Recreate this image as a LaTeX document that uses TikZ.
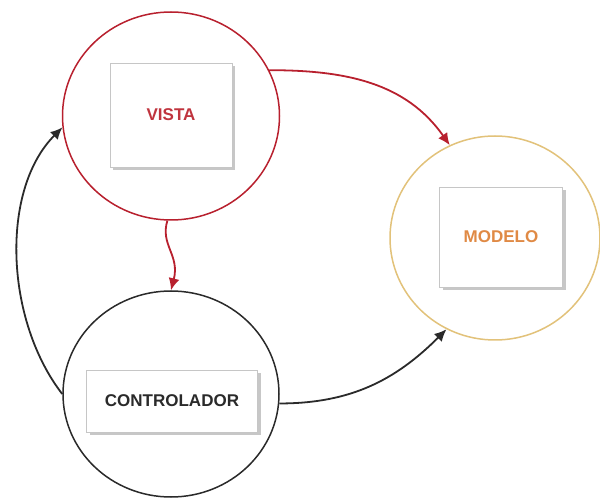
\documentclass[tikz,border=0pt]{standalone}
\usepackage{fontspec}
\setmainfont{Liberation Sans}
\usetikzlibrary{shapes.geometric,arrows.meta,shadows}
\definecolor{vred}{HTML}{B8202E}
\definecolor{vtext}{HTML}{C0343E}
\definecolor{mgold}{HTML}{E2C27A}
\definecolor{mtext}{HTML}{E08A45}
\definecolor{cblack}{HTML}{2A2A2A}
\tikzset{
  ring/.style={ellipse, line width=1.5pt, fill=white},
  card/.style={rectangle, draw=gray!45, line width=0.8pt, fill=white,
    drop shadow={shadow xshift=3pt, shadow yshift=-3pt, fill=gray!55, opacity=0.8},
    font=\bfseries\fontsize{17}{19}\selectfont},
  link/.style={line width=1.8pt, -{Latex[length=12pt,width=11pt]}},
}
\begin{document}
\begin{tikzpicture}[x=1pt,y=-1pt]
\useasboundingbox (0,0) rectangle (600,502);
% circles
\node[ring, draw=vred, minimum width=217pt, minimum height=208pt] (vc) at (171,116) {};
\node[ring, draw=mgold, minimum width=210pt, minimum height=204pt] (mc) at (495,238) {};
\node[ring, draw=cblack, minimum width=216pt, minimum height=206pt] (cc) at (171,394) {};
% boxes
\node[card, minimum width=122pt, minimum height=104pt, text=vtext] (vb) at (171,115) {VISTA};
\node[card, minimum width=123pt, minimum height=100pt, text=mtext] (mb) at (501,237) {MODELO};
\node[card, minimum width=171pt, minimum height=62pt, text=cblack] (cb) at (172,401) {CONTROLADOR};
% connectors
\draw[link, draw=vred] (vc.25) to[out=0, in=125] (mc.116);
\draw[link, draw=vred] (vc.268) .. controls (160,245) and (180,255) .. (cc.90);
\draw[link, draw=cblack] (cc.180) .. controls (5,320) and (0,190) .. (vc.186);
\draw[link, draw=cblack] (cc.-5) to[out=0, in=225] (mc.242);
\end{tikzpicture}
\end{document}
